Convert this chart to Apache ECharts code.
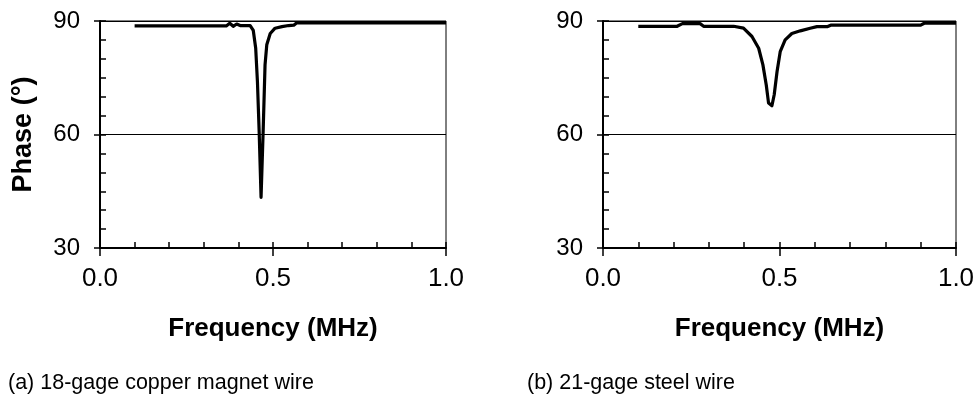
<!DOCTYPE html>
<html>
<head>
<meta charset="utf-8">
<script src="https://cdn.jsdelivr.net/npm/echarts@6/dist/echarts.min.js"></script>
<style>
  html, body { margin: 0; padding: 0; background: #fff; }
  #chart { width: 979px; height: 405px; }
</style>
</head>
<body>
<div id="chart"></div>
<script>
// Phase response of two wire samples versus excitation frequency
const freqCopper = [0.10, 0.15, 0.20, 0.25, 0.30, 0.35, 0.365, 0.375, 0.385, 0.395, 0.405, 0.42, 0.434,
  0.443, 0.450, 0.455, 0.460, 0.4655, 0.4715, 0.477, 0.482, 0.492, 0.506, 0.526, 0.545, 0.560, 0.568,
  0.60, 0.70, 0.80, 0.90, 1.00];
const phaseCopper = [88.7, 88.7, 88.7, 88.7, 88.7, 88.7, 88.7, 89.4, 88.6, 89.2, 88.8, 88.8, 88.8,
  87.5, 82.8, 74.0, 60.8, 43.4, 60.8, 78.4, 83.7, 86.7, 88.1, 88.5, 88.8, 88.9, 89.5,
  89.5, 89.5, 89.5, 89.5, 89.5];

const freqSteel = [0.10, 0.15, 0.21, 0.225, 0.25, 0.275, 0.285, 0.33, 0.37, 0.398, 0.422, 0.441, 0.453,
  0.4625, 0.469, 0.4785, 0.485, 0.493, 0.502, 0.516, 0.535, 0.559, 0.587, 0.606, 0.635, 0.645,
  0.70, 0.80, 0.90, 0.91, 0.915, 0.92, 1.00];
const phaseSteel = [88.6, 88.6, 88.6, 89.3, 89.3, 89.3, 88.6, 88.6, 88.6, 88.1, 85.9, 82.8, 78.4,
  73.1, 68.3, 67.6, 70.5, 76.6, 81.9, 85.0, 86.7, 87.4, 88.1, 88.5, 88.5, 88.9,
  88.9, 88.9, 88.9, 89.4, 89.0, 89.4, 89.4];

const xTicks = [0.0, 0.5, 1.0];
const yTicks = [30, 60, 90];
const xTitle = 'Frequency (MHz)';
const yTitle = 'Phase (°)';
const captions = ['(a) 18-gage copper magnet wire', '(b) 21-gage steel wire'];

const FONT = 'Liberation Sans, Arial, sans-serif';
const panels = [
  { left: 100, width: 346, captionLeft: 3 },
  { left: 603, width: 353, captionLeft: 522 }
];
const TOP = 21, HEIGHT = 227;

const toPairs = (xs, ys) => xs.map((x, i) => [x, ys[i]]);
const seriesData = [toPairs(freqCopper, phaseCopper), toPairs(freqSteel, phaseSteel)];

const grid = [], xAxis = [], yAxis = [], series = [];

panels.forEach((p, i) => {
  // main grid with labels, thick axes, frame
  grid.push({ left: p.left, top: TOP, width: p.width, height: HEIGHT,
    show: true, borderColor: '#000', borderWidth: 1, backgroundColor: 'transparent' });
  // overlay grid carrying only the inner minor ticks
  grid.push({ left: p.left, top: TOP, width: p.width, height: HEIGHT, show: false });
  const gMain = i * 2, gMinor = i * 2 + 1;

  xAxis.push({
    type: 'value', gridIndex: gMain, min: xTicks[0], max: xTicks[xTicks.length - 1],
    interval: xTicks[1] - xTicks[0],
    name: xTitle, nameLocation: 'middle', nameGap: 68,
    nameTextStyle: { fontFamily: FONT, fontSize: 26, fontWeight: 'bold', color: '#000' },
    axisLine: { show: true, lineStyle: { color: '#000', width: 2 } },
    axisTick: { show: true, inside: false, length: 8, lineStyle: { color: '#000', width: 1.5 } },
    axisLabel: { show: true, margin: 18, fontFamily: FONT, fontSize: 26, color: '#000',
      formatter: v => v.toFixed(1) },
    splitLine: { show: false }
  });
  yAxis.push({
    type: 'value', gridIndex: gMain, min: yTicks[0], max: yTicks[yTicks.length - 1],
    interval: yTicks[1] - yTicks[0],
    name: i === 0 ? yTitle : '', nameLocation: 'middle', nameGap: 63, nameRotate: 90,
    nameTextStyle: { fontFamily: FONT, fontSize: 27, fontWeight: 'bold', color: '#000' },
    axisLine: { show: true, lineStyle: { color: '#000', width: 2 } },
    axisTick: { show: true, inside: false, length: 6, lineStyle: { color: '#000', width: 1.5 } },
    axisLabel: { show: true, margin: 20, fontFamily: FONT, fontSize: 24, color: '#000' },
    splitLine: { show: true, lineStyle: { color: '#000', width: 1 } }
  });

  xAxis.push({
    type: 'value', gridIndex: gMinor, min: 0, max: 1, interval: 0.1,
    axisLine: { show: false },
    axisTick: { show: true, inside: true, length: 6, lineStyle: { color: '#000', width: 1.5 } },
    axisLabel: { show: false }, splitLine: { show: false }
  });
  yAxis.push({
    type: 'value', gridIndex: gMinor, min: 30, max: 90, interval: 5,
    axisLine: { show: false },
    axisTick: { show: true, inside: true, length: 6, lineStyle: { color: '#000', width: 1.5 } },
    axisLabel: { show: false }, splitLine: { show: false }
  });

  series.push({
    type: 'line', xAxisIndex: gMain, yAxisIndex: gMain, data: seriesData[i],
    showSymbol: false, symbol: 'none', smooth: false, animation: false,
    lineStyle: { color: '#000', width: 3.2, join: 'round' }
  });
});

const title = captions.map((c, i) => ({
  text: c, left: panels[i].captionLeft, top: 367,
  textStyle: { fontFamily: FONT, fontSize: 21.5, fontWeight: 'normal', color: '#000' }
}));

const chart = echarts.init(document.getElementById('chart'), null, { renderer: 'canvas' });
chart.setOption({ animation: false, backgroundColor: '#fff', title, grid, xAxis, yAxis, series });
</script>
</body>
</html>
